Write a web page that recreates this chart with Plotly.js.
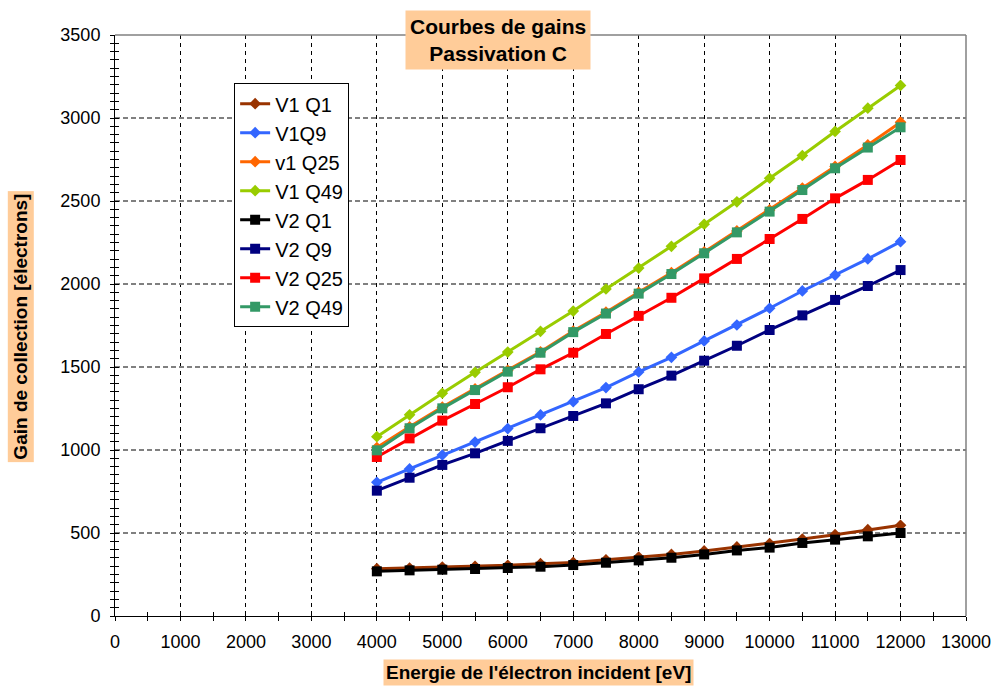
<!DOCTYPE html>
<html>
<head>
<meta charset="utf-8">
<script src="https://cdn.plot.ly/plotly-3.0.1.min.js"></script>
<style>html,body{margin:0;padding:0;background:#fff;}#chart{width:992px;height:687px;}</style>
</head>
<body>
<div id="chart"></div>
<script>
const energy = [4000, 4500, 5000, 5500, 6000, 6500, 7000, 7500, 8000, 8500, 9000, 9500, 10000, 10500, 11000, 11500, 12000];

const v1q1  = [285, 289, 295, 299, 305, 315, 323, 339, 355, 371, 392, 416, 436, 464, 490, 520, 546];
const v1q9  = [805, 886, 970, 1048, 1129, 1211, 1291, 1376, 1470, 1558, 1657, 1753, 1854, 1958, 2054, 2151, 2255];
const v1q25 = [1015, 1140, 1258, 1368, 1480, 1592, 1717, 1830, 1950, 2068, 2193, 2320, 2446, 2578, 2708, 2838, 2975];
const v1q49 = [1080, 1212, 1342, 1468, 1590, 1715, 1837, 1970, 2096, 2227, 2360, 2495, 2637, 2774, 2919, 3059, 3196];
const v2q1  = [269, 275, 279, 283, 289, 297, 307, 321, 335, 351, 371, 395, 412, 440, 460, 480, 500];
const v2q9  = [755, 833, 910, 980, 1055, 1131, 1205, 1281, 1366, 1448, 1538, 1628, 1723, 1811, 1904, 1988, 2084];
const v2q25 = [958, 1070, 1177, 1277, 1378, 1486, 1586, 1699, 1808, 1917, 2034, 2151, 2271, 2392, 2516, 2627, 2747];
const v2q49 = [998, 1131, 1251, 1361, 1472, 1586, 1710, 1822, 1942, 2060, 2185, 2311, 2436, 2566, 2697, 2822, 2944];

const seriesNames = ["V1 Q1", "V1Q9", "v1 Q25", "V1 Q49", "V2 Q1", "V2 Q9", "V2 Q25", "V2 Q49"];
const seriesValues = [v1q1, v1q9, v1q25, v1q49, v2q1, v2q9, v2q25, v2q49];
const seriesColors = ["#993300", "#3366FF", "#FF6600", "#99CC00", "#000000", "#000080", "#FF0000", "#339966"];
const seriesSymbols = ["diamond", "diamond", "diamond", "diamond", "square", "square", "square", "square"];

const titleText = "Courbes de gains<br>Passivation C";
const xTitleText = "Energie de l'électron incident [eV]";
const yTitleText = "Gain de collection [électrons]";

const FONT = "Arial, 'Liberation Sans', sans-serif";

const traces = seriesNames.map((name, i) => ({
  type: "scatter",
  mode: "lines+markers",
  name: name,
  x: energy,
  y: seriesValues[i],
  line: {color: seriesColors[i], width: 3},
  marker: {color: seriesColors[i], symbol: seriesSymbols[i], size: seriesSymbols[i] === "square" ? 10 : 9}
}));

// invisible trace to carry the overlay axes (inside halves of crossing ticks)
traces.push({type: "scatter", x: [], y: [], xaxis: "x2", yaxis: "y2", showlegend: false, hoverinfo: "skip"});

const layout = {
  width: 992,
  height: 687,
  margin: {l: 115, r: 26, t: 35, b: 71},
  paper_bgcolor: "#ffffff",
  plot_bgcolor: "#ffffff",
  font: {family: FONT, color: "#000"},
  showlegend: true,
  legend: {
    x: 0.14, y: 0.917, xanchor: "left", yanchor: "top",
    bgcolor: "#ffffff", bordercolor: "#000000", borderwidth: 1,
    font: {family: FONT, size: 20, color: "#000"},
    tracegroupgap: 0
  },
  xaxis: {
    range: [0, 13000], dtick: 1000, tick0: 0, tickformat: "d",
    showline: true, linecolor: "#000", linewidth: 1,
    ticks: "outside", ticklen: 4, tickcolor: "#000", tickwidth: 1,
    tickfont: {family: FONT, size: 18, color: "#000"},
    ticklabelstandoff: 5,
    showgrid: true, gridcolor: "#000", gridwidth: 1, griddash: "4px,4px",
    zeroline: false,
    minor: {dtick: 500, ticks: "outside", ticklen: 4, tickcolor: "#000", showgrid: false}
  },
  yaxis: {
    range: [0, 3500], dtick: 500, tick0: 0, tickformat: "d",
    showline: true, linecolor: "#000", linewidth: 1,
    ticks: "outside", ticklen: 4, tickcolor: "#000", tickwidth: 1,
    tickfont: {family: FONT, size: 18, color: "#000"},
    ticklabelstandoff: 6,
    showgrid: true, gridcolor: "#808080", gridwidth: 1.5, griddash: "5px,3px",
    zeroline: false,
    minor: {dtick: 50, ticks: "outside", ticklen: 4, tickcolor: "#000", showgrid: false}
  },
  xaxis2: {
    overlaying: "x", matches: "x", side: "bottom", anchor: "y2",
    range: [0, 13000], dtick: 1000,
    showline: false, showgrid: false, zeroline: false, showticklabels: false,
    ticks: "inside", ticklen: 4, tickcolor: "#000",
    minor: {dtick: 500, ticks: "inside", ticklen: 4, tickcolor: "#000", showgrid: false}
  },
  yaxis2: {
    overlaying: "y", side: "left", anchor: "x2",
    range: [0, 3500], dtick: 500,
    showline: false, showgrid: false, zeroline: false, showticklabels: false,
    ticks: "inside", ticklen: 4, tickcolor: "#000",
    minor: {dtick: 50, ticks: "inside", ticklen: 4, tickcolor: "#000", showgrid: false}
  },
  shapes: [
    {type: "line", xref: "paper", yref: "paper", x0: 0, x1: 1, y0: 1, y1: 1, line: {color: "#808080", width: 1.5}},
    {type: "line", xref: "paper", yref: "paper", x0: 1, x1: 1, y0: 0, y1: 1, line: {color: "#808080", width: 1.5}}
  ],
  annotations: [
    {text: "<b>" + titleText + "</b>", xref: "paper", yref: "paper", x: 0.45, y: 0.991,
     xanchor: "center", yanchor: "middle", showarrow: false, bgcolor: "#FFCC99", borderpad: 4,
     font: {family: FONT, size: 21, color: "#000"}},
    {text: "<b>" + xTitleText + "</b>", xref: "paper", yref: "paper", x: 0.4977, y: -0.0964,
     xanchor: "center", yanchor: "middle", showarrow: false, bgcolor: "#FFCC99", borderpad: 2,
     font: {family: FONT, size: 19, color: "#000"}},
    {text: "<b>" + yTitleText + "</b>", xref: "paper", yref: "paper", x: -0.1105, y: 0.498,
     xanchor: "center", yanchor: "middle", textangle: -90, showarrow: false, bgcolor: "#FFCC99", borderpad: 2,
     font: {family: FONT, size: 19, color: "#000"}}
  ]
};

Plotly.newPlot("chart", traces, layout, {staticPlot: true, displayModeBar: false});
</script>
</body>
</html>
